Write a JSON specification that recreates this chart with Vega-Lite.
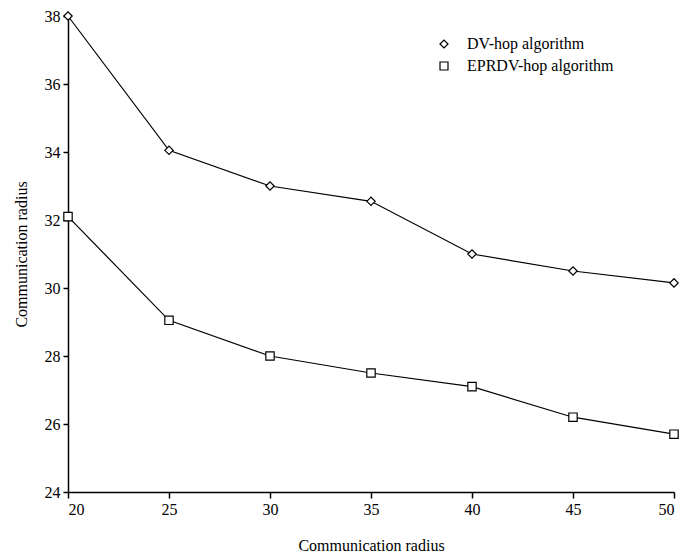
{
  "$schema": "https://vega.github.io/schema/vega-lite/v6.json",
  "width": 606,
  "height": 476,
  "autosize": "none",
  "padding": {"left": 68, "top": 16, "right": 9, "bottom": 66},
  "background": "white",
  "config": {
    "font": "Liberation Serif",
    "view": {"stroke": null},
    "axis": {"grid": false, "domainColor": "black", "tickColor": "black", "domainWidth": 1.5, "tickWidth": 1.5, "labelColor": "black", "titleColor": "black", "labelFontSize": 16, "titleFontSize": 16, "titleFontWeight": "normal", "labelFont": "Liberation Serif", "titleFont": "Liberation Serif"}
  },
  "data": {
    "values": [
      {"radius": 20, "error": 38.0, "series": "DV-hop algorithm"},
      {"radius": 25, "error": 34.05, "series": "DV-hop algorithm"},
      {"radius": 30, "error": 33.0, "series": "DV-hop algorithm"},
      {"radius": 35, "error": 32.55, "series": "DV-hop algorithm"},
      {"radius": 40, "error": 31.0, "series": "DV-hop algorithm"},
      {"radius": 45, "error": 30.5, "series": "DV-hop algorithm"},
      {"radius": 50, "error": 30.15, "series": "DV-hop algorithm"},
      {"radius": 20, "error": 32.1, "series": "EPRDV-hop algorithm"},
      {"radius": 25, "error": 29.05, "series": "EPRDV-hop algorithm"},
      {"radius": 30, "error": 28.0, "series": "EPRDV-hop algorithm"},
      {"radius": 35, "error": 27.5, "series": "EPRDV-hop algorithm"},
      {"radius": 40, "error": 27.1, "series": "EPRDV-hop algorithm"},
      {"radius": 45, "error": 26.2, "series": "EPRDV-hop algorithm"},
      {"radius": 50, "error": 25.7, "series": "EPRDV-hop algorithm"}
    ]
  },
  "encoding": {
    "x": {"field": "radius", "type": "quantitative", "scale": {"domain": [20, 50], "nice": false, "zero": false},
          "axis": {"values": [20, 25, 30, 35, 40, 45, 50], "title": "Communication radius", "tickSize": 6, "labelPadding": 3, "titlePadding": 20}},
    "y": {"field": "error", "type": "quantitative", "scale": {"domain": [24, 38], "nice": false, "zero": false},
          "axis": {"values": [24, 26, 28, 30, 32, 34, 36, 38], "title": "Communication radius", "tickSize": 5, "labelPadding": 3, "titlePadding": 15}}
  },
  "layer": [
    {
      "mark": {"type": "line", "strokeWidth": 1.2},
      "encoding": {
        "color": {"field": "series", "type": "nominal",
          "scale": {"domain": ["DV-hop algorithm", "EPRDV-hop algorithm"], "range": ["black", "black"]},
          "legend": {
            "title": null, "orient": "none", "legendX": 368, "legendY": 20,
            "labelFontSize": 16, "labelFont": "Liberation Serif", "labelColor": "black",
            "symbolSize": 64, "labelOffset": 15, "rowPadding": 6,
            "symbolStrokeWidth": 1.2,
            "encode": {"symbols": {"update": {
              "shape": [{"test": "datum.value == 'DV-hop algorithm'", "value": "M-6.25,0L-0.9,0M0.9,0L6.25,0M0,-1L0.9,0L0,1L-0.9,0Z"}, {"value": "M-6.25,0L-1,0M1,0L6.25,0M-1,-1L1,-1L1,1L-1,1Z"}],
              "size": {"value": 64},
              "stroke": {"value": "black"}, "fill": {"value": "white"}, "opacity": {"value": 1}, "strokeWidth": {"value": 1.2}}}}
          }}
      }
    },
    {
      "mark": {"type": "point", "filled": true, "fill": "white", "stroke": "black", "strokeWidth": 1.2, "size": 70, "opacity": 1},
      "encoding": {
        "shape": {"field": "series", "type": "nominal",
          "scale": {"domain": ["DV-hop algorithm", "EPRDV-hop algorithm"], "range": ["diamond", "square"]},
          "legend": null}
      }
    }
  ]
}
